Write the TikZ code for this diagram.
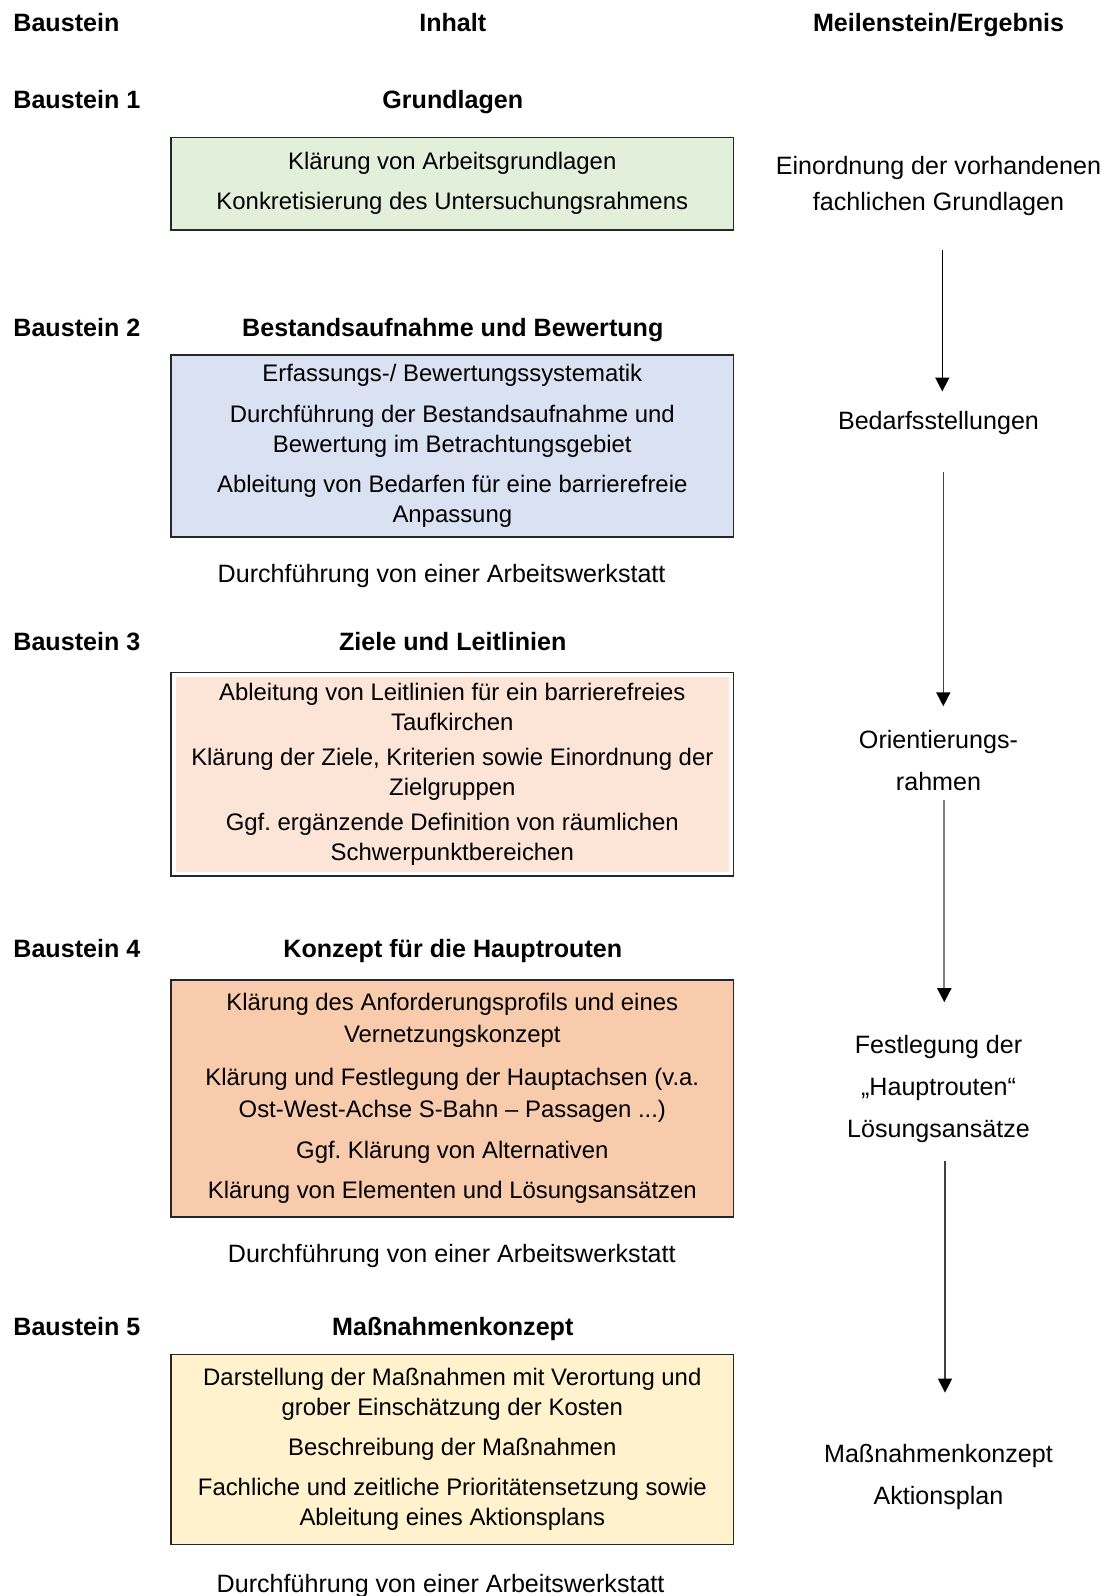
\documentclass[tikz,border=0pt]{standalone}
\usepackage{fontspec}
\setmainfont{Liberation Sans}
\usetikzlibrary{arrows.meta}
\definecolor{gruen}{HTML}{E2EFDA}
\definecolor{blau}{HTML}{D9E1F2}
\definecolor{rosa}{HTML}{FCE4D6}
\definecolor{lachs}{HTML}{F8CBAD}
\definecolor{gelb}{HTML}{FFF2CC}
\newcommand{\zs}{\rule[-5.2pt]{0pt}{23.3pt}}
\frenchspacing

\begin{document}
\begin{tikzpicture}[x=1pt,y=-1pt,
  txt/.style={font=\fontsize{25.1}{30}\selectfont,inner sep=0pt,align=center},
  kopf/.style={font=\fontsize{25.1}{30}\selectfont\bfseries,inner sep=0pt,text height=18.1pt,text depth=5.2pt},
  notiz/.style={font=\fontsize{25.1}{30}\selectfont,inner sep=0pt,text height=18.1pt,text depth=5.2pt},
  kasten/.style={txt,font=\fontsize{23.9}{30}\selectfont,draw=black!85,line width=1.3pt,minimum width=562.6pt,execute at begin node=\zs,execute at end node=\zs},
  innen/.style={path picture={\fill[#1] ([shift={(4.5pt,-4.5pt)}]path picture bounding box.north west) rectangle ([shift={(-4.5pt,4.5pt)}]path picture bounding box.south east);}},
  ziel/.style={txt,font=\fontsize{25.1}{42}\selectfont,execute at begin node=\zs,execute at end node=\zs},
  pfeil/.style={line width=1.5pt,-{Triangle[width=14pt,length=14pt,black]}}]
\useasboundingbox (0,0) rectangle (1104,1596);

\node[kopf,anchor=west] (kopfA) at (13.2,24.9) {Baustein};
\node[kopf] (kopfB) at (452.8,24.9) {Inhalt};
\node[kopf] (kopfC) at (938.6,24.9) {Meilenstein/Ergebnis};

\node[kopf,anchor=west] (bs1) at (13.2,102.2) {Baustein 1};
\node[kopf] (ti1) at (452.8,102.2) {Grundlagen};
\node[kasten,fill=gruen,minimum height=92.6pt] (in1) at (452.3,183.7)
  {Klärung von Arbeitsgrundlagen\\[9.6pt]Konkretisierung des Untersuchungsrahmens};

\node[kopf,anchor=west] (bs2) at (13.2,330.1) {Baustein 2};
\node[kopf] (ti2) at (452.8,330.1) {Bestandsaufnahme und Bewertung};
\node[kasten,fill=blau,minimum height=182pt] (in2) at (452.3,446)
  {Erfassungs-/ Bewertungssystematik\\[10.7pt]Durchführung der Bestandsaufnahme und\\Bewertung im Betrachtungsgebiet\\[10.7pt]Ableitung von Bedarfen für eine barrierefreie\\Anpassung};
\node[notiz] (ws1) at (441.6,576.4) {Durchführung von einer Arbeitswerkstatt};

\node[kopf,anchor=west] (bs3) at (13.2,644.5) {Baustein 3};
\node[kopf] (ti3) at (452.8,644.5) {Ziele und Leitlinien};
\node[kasten,fill=white,innen=rosa,minimum height=203.4pt] (in3) at (452.3,774.3)
  {Ableitung von Leitlinien für ein barrierefreies\\Taufkirchen\\[5pt]Klärung der Ziele, Kriterien sowie Einordnung der\\Zielgruppen\\[5pt]Ggf. ergänzende Definition von räumlichen\\Schwerpunktbereichen};

\node[kopf,anchor=west] (bs4) at (13.2,950.8) {Baustein 4};
\node[kopf] (ti4) at (452.8,950.8) {Konzept für die Hauptrouten};
\node[kasten,fill=lachs,minimum height=237pt] (in4) at (452.3,1098.5)
  {Klärung des Anforderungsprofils und eines\\[1.6pt]Vernetzungskonzept\\[12.7pt]Klärung und Festlegung der Hauptachsen (v.a.\\[2.5pt]Ost-West-Achse S-Bahn – Passagen ...)\\[10.8pt]Ggf. Klärung von Alternativen\\[9.7pt]Klärung von Elementen und Lösungsansätzen};
\node[notiz] (ws2) at (451.8,1256.1) {Durchführung von einer Arbeitswerkstatt};

\node[kopf,anchor=west] (bs5) at (13.2,1329.3) {Baustein 5};
\node[kopf] (ti5) at (452.8,1329.3) {Maßnahmenkonzept};
\node[kasten,fill=gelb,minimum height=190.3pt] (in5) at (452.3,1449.5)
  {Darstellung der Maßnahmen mit Verortung und\\grober Einschätzung der Kosten\\[9.7pt]Beschreibung der Maßnahmen\\[10.7pt]Fachliche und zeitliche Prioritätensetzung sowie\\Ableitung eines Aktionsplans};
\node[notiz] (ws3) at (440.6,1585.7) {Durchführung von einer Arbeitswerkstatt};

\node[ziel] (ms1) at (938.5,186.2) {Einordnung der vorhandenen\\[-6.4pt]fachlichen Grundlagen};
\node[ziel] (ms2) at (938.5,422.7) {Bedarfsstellungen};
\node[ziel] (ms3) at (938.5,763) {Orientierungs-\\rahmen};
\node[ziel] (ms4) at (938.5,1089.2) {Festlegung der\\„Hauptrouten“\\Lösungsansätze};
\node[ziel] (ms5) at (938.5,1477.3) {Maßnahmenkonzept\\Aktionsplan};

\draw[pfeil,black,shorten <=34.4pt,shorten >=19.3pt] ([xshift=3.8pt]ms1.south) -- ([xshift=3.8pt]ms2.north);
\draw[pfeil,black!75,shorten <=37.4pt,shorten >=23.8pt] ([xshift=4.8pt]ms2.south) -- ([xshift=4.8pt]ms3.north);
\draw[pfeil,black!50,line width=2pt,shorten <=4.5pt,shorten >=33.1pt] ([xshift=5.8pt]ms3.south) -- ([xshift=5.8pt]ms4.north);
\draw[pfeil,black!75,shorten <=18.2pt,shorten >=51.8pt] ([xshift=6.5pt]ms4.south) -- ([xshift=6.5pt]ms5.north);
\end{tikzpicture}
\end{document}
